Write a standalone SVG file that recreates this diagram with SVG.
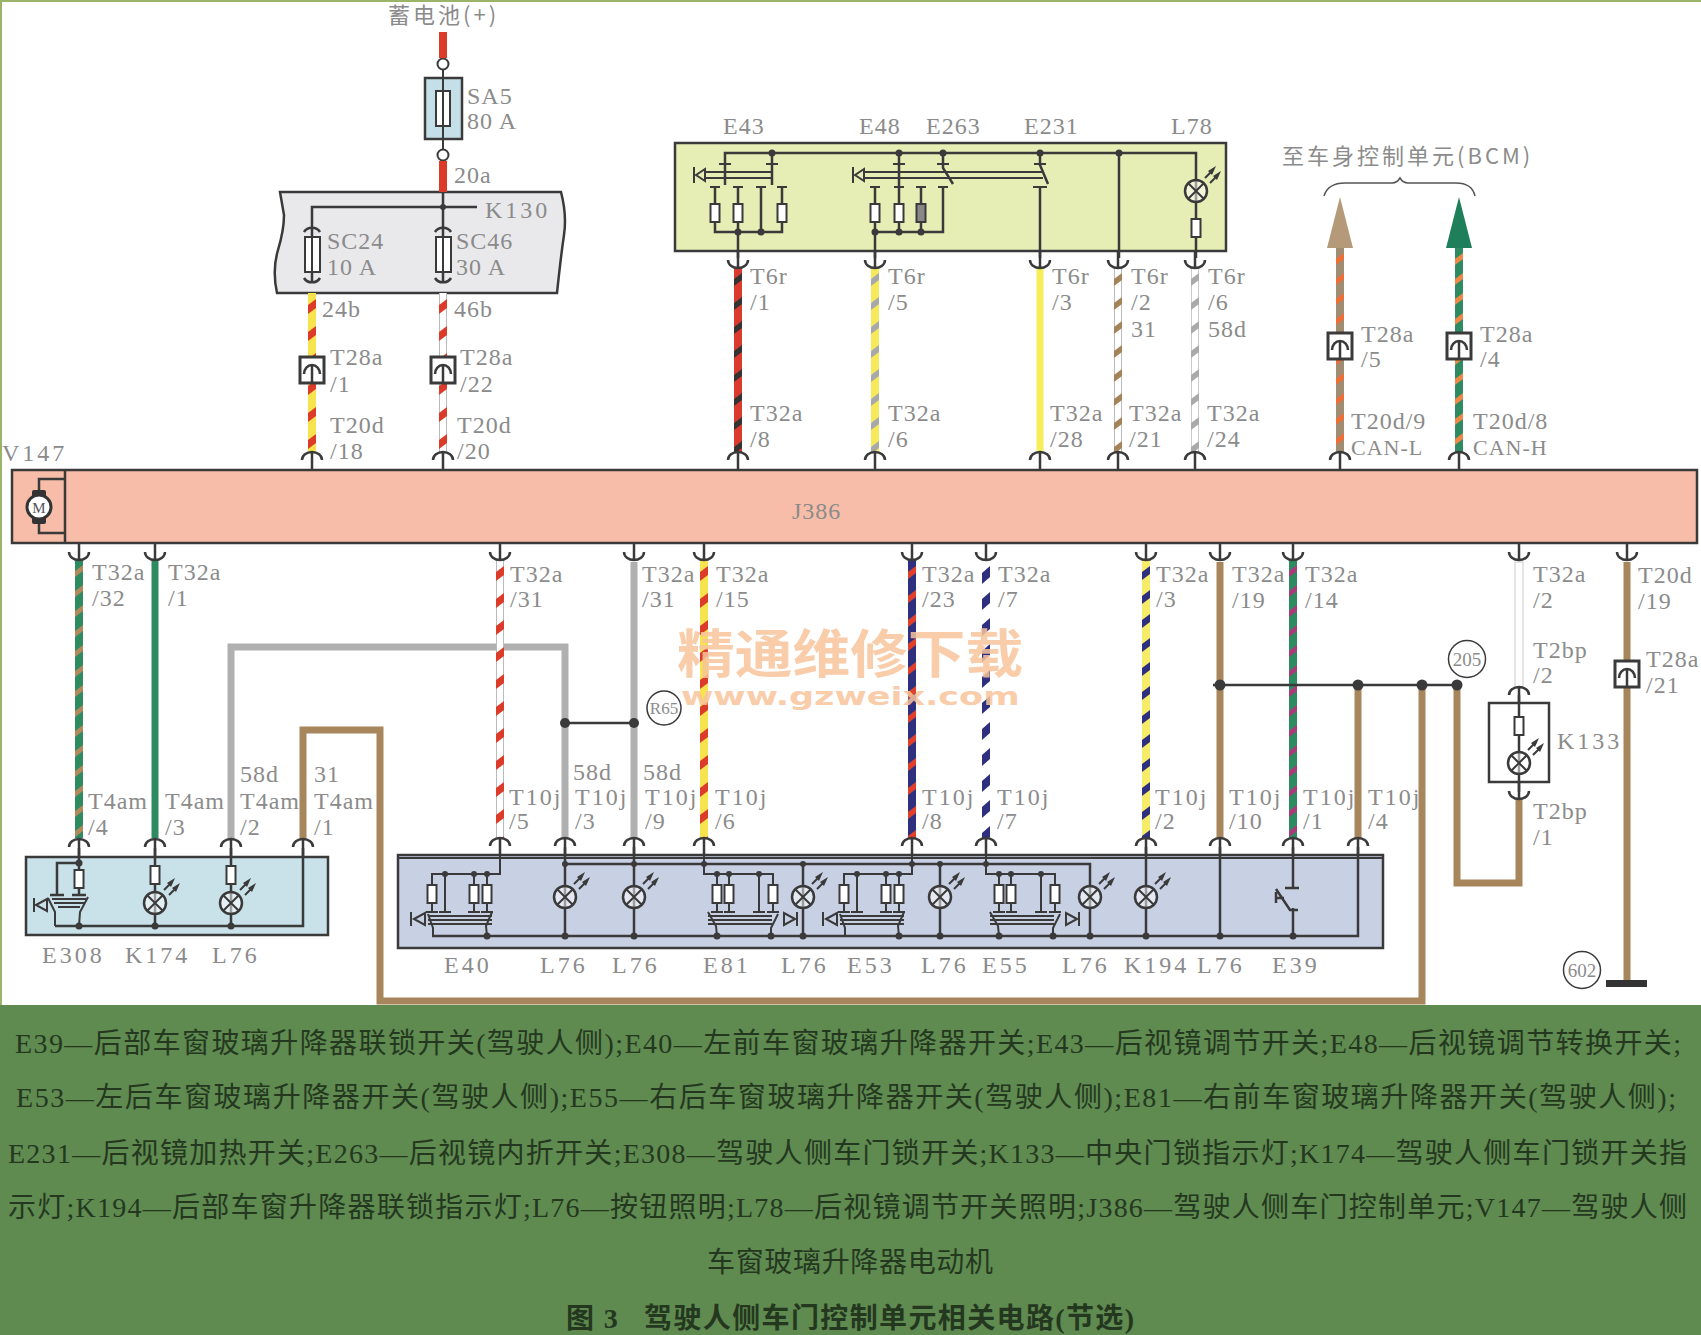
<svg xmlns="http://www.w3.org/2000/svg" xmlns:xlink="http://www.w3.org/1999/xlink" width="1701" height="1335" viewBox="0 0 1701 1335">
<style>
text{font-family:"Liberation Serif","Noto Sans CJK SC",serif}
.t{font-size:24px;fill:#8b8b8b;letter-spacing:1px}
.c{font-size:22px;fill:#8b8b8b;letter-spacing:3px;font-family:"Noto Sans CJK SC",sans-serif}
.n{font-size:19px;fill:#8b8b8b}
.lg{font-size:28px;fill:#24381f}
.l{fill:none;stroke:#3a3a3a;stroke-width:2}
.b{fill:none;stroke:#3a3a3a;stroke-width:2.5}
.f{fill:#fff;stroke:#3a3a3a;stroke-width:2}
.d{fill:#3a3a3a}
.w{fill:none;stroke-width:7}
</style>
<defs>
<pattern id="ry" width="8" height="27" patternUnits="userSpaceOnUse"><rect width="8" height="27" fill="#f7e34e"/><path d="M0 12L8 6V15L0 21Z" fill="#dd3b2a"/></pattern>
<pattern id="rw" width="8" height="27" patternUnits="userSpaceOnUse"><rect width="8" height="27" fill="#fff"/><path d="M0.5 0V27M7.5 0V27" stroke="#bbb"/><path d="M0 12L8 6V15L0 21Z" fill="#dd3b2a"/></pattern>
<pattern id="rk" width="8" height="24" patternUnits="userSpaceOnUse"><rect width="8" height="24" fill="#d93c2e"/><path d="M0 12L8 6V13L0 19Z" fill="#333"/></pattern>
<pattern id="yg" width="8" height="24" patternUnits="userSpaceOnUse"><rect width="8" height="24" fill="#f7ea5a"/><path d="M0 12L8 6V13L0 19Z" fill="#a8a8a8"/></pattern>
<pattern id="wb" width="8" height="24" patternUnits="userSpaceOnUse"><rect width="8" height="24" fill="#fff"/><path d="M0.5 0V24M7.5 0V24" stroke="#bbb"/><path d="M0 12L8 6V13L0 19Z" fill="#a58358"/></pattern>
<pattern id="wg" width="8" height="24" patternUnits="userSpaceOnUse"><rect width="8" height="24" fill="#fff"/><path d="M0.5 0V24M7.5 0V24" stroke="#ccc"/><path d="M0 12L8 6V13L0 19Z" fill="#aaa"/></pattern>
<pattern id="bo" width="8" height="20" patternUnits="userSpaceOnUse"><rect width="8" height="20" fill="#a08c70"/><path d="M0 11L8 5V11L0 17Z" fill="#ee6e35"/></pattern>
<pattern id="go" width="8" height="20" patternUnits="userSpaceOnUse"><rect width="8" height="20" fill="#2e8a60"/><path d="M0 11L8 5V11L0 17Z" fill="#ee8844"/></pattern>
<pattern id="gb" width="8" height="20" patternUnits="userSpaceOnUse"><rect width="8" height="20" fill="#2e8a60"/><path d="M0 11L8 5V11L0 17Z" fill="#b08a5a"/></pattern>
<pattern id="ub" width="8" height="24" patternUnits="userSpaceOnUse"><rect width="8" height="24" fill="#2f2f80"/><path d="M0 12L8 6V13L0 19Z" fill="#e0402a"/></pattern>
<pattern id="uw" width="8" height="26" patternUnits="userSpaceOnUse"><rect width="8" height="26" fill="#fff"/><path d="M0 13L8 6V17L0 24Z" fill="#2f2f80"/></pattern>
<pattern id="yu" width="8" height="24" patternUnits="userSpaceOnUse"><rect width="8" height="24" fill="#f7ec6a"/><path d="M0 12L8 6V14L0 20Z" fill="#2f2f80"/></pattern>
<pattern id="gp" width="8" height="20" patternUnits="userSpaceOnUse"><rect width="8" height="20" fill="#2e8a60"/><path d="M0 11L8 5V11L0 17Z" fill="#a83a7a"/></pattern>
<g id="cu"><path class="b" d="M-10 -1A10 8 0 0 1 10 -1M0 -8V8"/></g>
<g id="cd"><path class="b" d="M-10 1A10 8 0 0 0 10 1M0 -8V8"/></g>
<g id="lamp"><circle r="11" fill="#fff" fill-opacity=".5" stroke="#3a3a3a" stroke-width="2.5"/><path class="l" d="M-8 -8L8 8M-8 8L8 -8M9 -13L17 -21M14 -8L22 -16"/><path class="d" d="M20 -25L12 -20L16 -16ZM25 -20L17 -15L21 -11Z"/></g>
<g id="fuse"><rect class="f" x="-4.5" y="-9" width="9" height="18"/></g>
<g id="conn"><rect x="-12" y="-13" width="24" height="26" fill="#fff" stroke="#3a3a3a" stroke-width="3"/><path class="b" d="M-8 4A8 9 0 0 1 8 4M0 -4V13"/></g>
<g id="swL">
<path class="l" d="M500 847V874H432V912M445 874V912M474 874V912M487 874V912M426 912H438M439 912H451M468 912H480M481 912H493M428 916H492M428 920H492M428 924H492M414 919L425 913V925ZM411 912V926M492 912L486 926L487 936M428 914L433 928V936"/>
<circle class="d" cx="445" cy="874" r="3"/><circle class="d" cx="474" cy="874" r="3"/><circle class="d" cx="487" cy="874" r="3"/><circle class="d" cx="487" cy="936" r="3.5"/>
<use href="#fuse" x="432" y="894"/><use href="#fuse" x="474" y="894"/><use href="#fuse" x="487" y="894"/>
</g>
<g id="swR">
<path class="l" d="M704 847V874H773V912M717 874V912M729 874V912M759 874V912M711 912H723M724 912H735M753 912H765M767 912H779M708 916H772M708 920H772M708 924H772M795 919L784 913V925ZM797 912V926M708 912L716 926L717 936M778 914L771 928V936"/>
<circle class="d" cx="717" cy="874" r="3"/><circle class="d" cx="729" cy="874" r="3"/><circle class="d" cx="759" cy="874" r="3"/><circle class="d" cx="717" cy="936" r="3.5"/><circle class="d" cx="771" cy="936" r="3.5"/>
<use href="#fuse" x="717" y="894"/><use href="#fuse" x="729" y="894"/><use href="#fuse" x="773" y="894"/>
</g>
</defs>
<rect width="1701" height="1335" fill="#fff"/>
<rect width="1701" height="2" fill="#9ab56a"/><rect width="2" height="1005" fill="#9ab56a"/>
<rect y="1005" width="1701" height="330" fill="#5f8a50"/>

<g id="SA5">
<rect x="425" y="78" width="37" height="61" fill="#c5dfe8" stroke="#3a3a3a" stroke-width="2.5"/>
<rect class="f" x="436" y="91" width="14" height="35"/>
<path class="l" d="M443 70V149"/>
<circle cx="443" cy="64" r="5.5" fill="#fff" stroke="#3a3a3a" stroke-width="2"/><circle cx="443" cy="155" r="5.5" fill="#fff" stroke="#3a3a3a" stroke-width="2"/>
<text class="t" x="467" y="104">SA5</text><text class="t" x="467" y="129">80 A</text>
</g>
<g id="K130">
<path d="M280 192H561Q567 215 564 235T557 293H277Q272 270 278 250T284 215Z" fill="#e9e9ec" stroke="#3a3a3a" stroke-width="2.5"/>
<path class="b" d="M312 283V207H477M443 192V283"/>
<circle class="d" cx="443" cy="207" r="3"/>
<path class="b" d="M304 232A9 8 0 0 1 320 232M435 232A9 8 0 0 1 451 232M304 278A9 8 0 0 0 320 278M435 278A9 8 0 0 0 451 278"/>
<rect class="f" x="305" y="237" width="15" height="35"/><rect class="f" x="436" y="237" width="15" height="35"/>
<path class="l" d="M312 237V272M443 237V272"/>
<text class="t" x="485" y="218" style="letter-spacing:3px">K130</text>
<text class="t" x="327" y="249">SC24</text><text class="t" x="327" y="275">10 A</text>
<text class="t" x="456" y="249">SC46</text><text class="t" x="456" y="275">30 A</text>
</g>
<g id="mirror-switches">
<rect x="675" y="143" width="551" height="108" fill="#e6edb5" stroke="#3a3a3a" stroke-width="2.5"/>
<path class="b" d="M725 185V153H1196V218"/>
<path class="l" d="M704 172H771M704 178H771M863 172H1043M863 178H1043M696 175L705 169V181ZM694 167V183M855 175L864 169V181ZM853 167V183"/>
<path class="b" d="M772 153V185M715 187V232H782V187M738 187V258M761 187V232M782 187V232"/>
<path class="l" d="M710 187H720M733 187H743M756 187H766M777 187H787M719 164H731M766 164H778M893 164H905M937 164H949M1034 164H1046M870 187H880M894 187H904M916 187H926M938 187H948M1033 187H1047"/>
<path class="b" d="M899 153V232M875 187V258M921 187V232M943 187V232H875M943 153V168L953 184M1040 153V165L1048 184M1040 187V258M1119 153V258M1196 237V258"/>
<g class="d"><circle cx="772" cy="153" r="3.5"/><circle cx="899" cy="153" r="3.5"/><circle cx="943" cy="153" r="3.5"/><circle cx="1040" cy="153" r="3.5"/><circle cx="1119" cy="153" r="3.5"/><circle cx="738" cy="232" r="3.5"/><circle cx="761" cy="232" r="3.5"/><circle cx="875" cy="232" r="3.5"/><circle cx="899" cy="232" r="3.5"/><circle cx="921" cy="232" r="3.5"/></g>
<use href="#fuse" x="715" y="213"/><use href="#fuse" x="738" y="213"/><use href="#fuse" x="782" y="213"/><use href="#fuse" x="875" y="213"/><use href="#fuse" x="899" y="213"/>
<rect x="916.500" y="204" width="9" height="18" fill="#888" stroke="#3a3a3a" stroke-width="2"/>
<use href="#lamp" x="1196" y="191"/><use href="#fuse" x="1196" y="228"/>
<text class="t" x="723" y="134">E43</text><text class="t" x="859" y="134">E48</text><text class="t" x="926" y="134">E263</text><text class="t" x="1024" y="134">E231</text><text class="t" x="1171" y="134">L78</text>
</g>
<g id="J386">
<rect x="12" y="470" width="1685" height="73" fill="#f7bda8" stroke="#3a3a3a" stroke-width="2.5"/>
<path class="b" d="M65 470V543M65 479H39V533H65"/>
<rect x="32" y="490" width="14" height="34" rx="2" fill="#333"/>
<circle cx="39" cy="507" r="12" fill="#fff" stroke="#333" stroke-width="3"/>
<text x="39" y="513" text-anchor="middle" font-size="15" fill="#555">M</text>
<text class="t" x="792" y="519">J386</text>
<text class="t" x="2" y="461" style="letter-spacing:3px">V147</text>
</g>
<g id="lock-switch">
<rect x="26" y="857" width="302" height="78" fill="#c9e1e8" stroke="#3a3a3a" stroke-width="2.5"/>
<path class="b" d="M79 848V895M79 863H57V895M50 895H64M72 895H86M55 926H303V848M155 848V926M231 848V926"/>
<path class="l" d="M52 899H86M54 903H84M58 907H80M36 905L47 899V911ZM34 898V912M88 897L80 912L79 926M48 898L55 912V926"/>
<g class="d"><circle cx="79" cy="863" r="3.5"/><circle cx="79" cy="926" r="3.5"/><circle cx="155" cy="926" r="3.5"/><circle cx="231" cy="926" r="3.5"/></g>
<use href="#fuse" x="79" y="879"/><use href="#fuse" x="155" y="875"/><use href="#fuse" x="231" y="875"/>
<use href="#lamp" x="155" y="903"/><use href="#lamp" x="231" y="903"/>
<text class="t" x="42" y="963" style="letter-spacing:3px">E308</text><text class="t" x="125" y="963" style="letter-spacing:3px">K174</text><text class="t" x="212" y="963" style="letter-spacing:3px">L76</text>
</g>
<g id="window-switches">
<rect x="398" y="855" width="985" height="93" fill="#c8d0e4" stroke="#3a3a3a" stroke-width="2.5"/>
<path class="l" d="M398 858H1383"/>
<path class="b" d="M565 847V936M634 847V936M565 864H1090V936M803 864V936M940 864V936M432 936H1358V847M1146 847V936M1220 847V936M1293 847V888M1293 908V936"/>
<path class="b" d="M1285 888H1299M1276 889L1290 910H1298M1276 898H1284M1276 892V903"/>
<use href="#swL"/><use href="#swL" x="412"/><use href="#swR"/><use href="#swR" x="282"/>
<use href="#lamp" x="565" y="897"/><use href="#lamp" x="634" y="897"/><use href="#lamp" x="803" y="897"/><use href="#lamp" x="940" y="897"/><use href="#lamp" x="1090" y="897"/><use href="#lamp" x="1146" y="897"/>
<g class="d"><circle cx="565" cy="864" r="3"/><circle cx="634" cy="864" r="3"/><circle cx="704" cy="864" r="3"/><circle cx="803" cy="864" r="3"/><circle cx="912" cy="864" r="3"/><circle cx="940" cy="864" r="3"/><circle cx="986" cy="864" r="3"/><circle cx="565" cy="936" r="3.5"/><circle cx="634" cy="936" r="3.5"/><circle cx="803" cy="936" r="3.5"/><circle cx="940" cy="936" r="3.5"/><circle cx="1090" cy="936" r="3.5"/><circle cx="1146" cy="936" r="3.5"/><circle cx="1220" cy="936" r="3.5"/><circle cx="1293" cy="936" r="3.5"/></g>
<text class="t" y="973" style="letter-spacing:3px"><tspan x="444">E40</tspan><tspan x="540">L76</tspan><tspan x="612">L76</tspan><tspan x="703">E81</tspan><tspan x="781">L76</tspan><tspan x="847">E53</tspan><tspan x="921">L76</tspan><tspan x="982">E55</tspan><tspan x="1062">L76</tspan><tspan x="1124">K194</tspan><tspan x="1197">L76</tspan><tspan x="1272">E39</tspan></text>
</g>
<g id="K133">
<rect x="1489" y="703" width="60" height="79" fill="#fff" stroke="#3a3a3a" stroke-width="2.5"/>
<path class="b" d="M1519 695V792"/>
<use href="#fuse" x="1519" y="726"/><use href="#lamp" x="1519" y="763"/>
<text class="t" x="1557" y="749" style="letter-spacing:3px">K133</text>
</g>
<g id="ground-points">
<circle cx="1467" cy="659" r="18.500" fill="#fff" stroke="#3a3a3a" stroke-width="1.500"/><text class="n" x="1467" y="666" text-anchor="middle">205</text>
<circle cx="664" cy="708" r="17" fill="#fff" stroke="#3a3a3a" stroke-width="1.500"/><text class="n" x="664" y="714" text-anchor="middle" style="font-size:17px">R65</text>
<circle cx="1582" cy="970" r="18.500" fill="#fff" stroke="#3a3a3a" stroke-width="1.500"/><text class="n" x="1582" y="977" text-anchor="middle">602</text>
<rect x="1606" y="980" width="41" height="7" fill="#333"/>
</g>
<g id="connectors">
<path d="M443 32V58M443 161V192" class="w" stroke="#dd3b2a" style="stroke-width:8"/>
<path d="M231 840V647H565V838M634 562V838" class="w" stroke="#b0b0b0"/>
<path d="M303 840V730H380V1001H1422V685M1220 562V838M1358 685V838M1457 685V883H1519V798M1627 562V980" class="w" stroke="#a8865c"/>
<path d="M155 560V838" class="w" stroke="#2e8a60"/>
<path d="M1040 267V453" class="w" stroke="#f7ec5a"/>
<rect x="1515" y="562" width="8" height="126" fill="#fff" stroke="#ccc"/>
<rect transform="translate(308,293)" width="8" height="160" fill="url(#ry)"/>
<rect transform="translate(439,293)" width="8" height="160" fill="url(#rw)"/>
<rect transform="translate(734,267)" width="8" height="186" fill="url(#rk)"/>
<rect transform="translate(871,267)" width="8" height="186" fill="url(#yg)"/>
<rect transform="translate(1114,267)" width="8" height="186" fill="url(#wb)"/>
<rect transform="translate(1191,267)" width="8" height="186" fill="url(#wg)"/>
<rect transform="translate(1336,248)" width="8" height="205" fill="url(#bo)"/>
<rect transform="translate(1455,248)" width="8" height="205" fill="url(#go)"/>
<rect transform="translate(75,560)" width="8" height="278" fill="url(#gb)"/>
<rect transform="translate(496,560)" width="8" height="278" fill="url(#rw)"/>
<rect transform="translate(700,560)" width="8" height="278" fill="url(#ry)"/>
<rect transform="translate(908,560)" width="8" height="278" fill="url(#ub)"/>
<rect transform="translate(982,560)" width="8" height="278" fill="url(#uw)"/>
<rect transform="translate(1142,560)" width="8" height="278" fill="url(#yu)"/>
<rect transform="translate(1289,560)" width="8" height="278" fill="url(#gp)"/>
<path d="M1340 197L1353 248H1327Z" fill="#b49a78"/><path d="M1459 197L1472 248H1446Z" fill="#1f7f5a"/>
<path class="b" d="M1213 685H1457M565 723H634"/>
<g class="d"><circle cx="1220" cy="685" r="5.500"/><circle cx="1358" cy="685" r="5.500"/><circle cx="1422" cy="685" r="5.500"/><circle cx="1457" cy="685" r="5.500"/><circle cx="565" cy="723" r="5"/><circle cx="634" cy="723" r="5"/></g>
<path fill="none" stroke="#555" stroke-width="1.500" d="M1324 196Q1328 183 1345 183H1392Q1397 183 1400 178Q1403 183 1408 183H1456Q1472 183 1475 196"/>
<g id="arcs-top"><use href="#cu" x="312" y="461"/><use href="#cu" x="443" y="461"/><use href="#cu" x="738" y="461"/><use href="#cu" x="875" y="461"/><use href="#cu" x="1040" y="461"/><use href="#cu" x="1118" y="461"/><use href="#cu" x="1195" y="461"/><use href="#cu" x="1340" y="461"/><use href="#cu" x="1459" y="461"/>
<use href="#cu" x="79" y="848"/><use href="#cu" x="155" y="848"/><use href="#cu" x="231" y="848"/><use href="#cu" x="303" y="848"/><use href="#cu" x="500" y="847"/><use href="#cu" x="565" y="847"/><use href="#cu" x="634" y="847"/><use href="#cu" x="704" y="847"/><use href="#cu" x="912" y="847"/><use href="#cu" x="986" y="847"/><use href="#cu" x="1146" y="847"/><use href="#cu" x="1220" y="847"/><use href="#cu" x="1293" y="847"/><use href="#cu" x="1358" y="847"/><use href="#cu" x="1519" y="696"/></g>
<g id="arcs-bottom"><use href="#cd" x="738" y="259"/><use href="#cd" x="875" y="259"/><use href="#cd" x="1040" y="259"/><use href="#cd" x="1118" y="259"/><use href="#cd" x="1195" y="259"/>
<use href="#cd" x="79" y="551"/><use href="#cd" x="155" y="551"/><use href="#cd" x="500" y="551"/><use href="#cd" x="634" y="551"/><use href="#cd" x="704" y="551"/><use href="#cd" x="912" y="551"/><use href="#cd" x="986" y="551"/><use href="#cd" x="1146" y="551"/><use href="#cd" x="1220" y="551"/><use href="#cd" x="1293" y="551"/><use href="#cd" x="1519" y="551"/><use href="#cd" x="1627" y="551"/><use href="#cd" x="1519" y="790"/></g>
<use href="#conn" x="312" y="370"/><use href="#conn" x="443" y="370"/><use href="#conn" x="1340" y="346"/><use href="#conn" x="1459" y="346"/><use href="#conn" x="1627" y="674"/>
</g>
<g id="labels">
<text class="c" x="388" y="23">蓄电池(+)</text>
<text class="c" x="1282" y="164">至车身控制单元(BCM)</text>
<text class="t" x="454" y="183">20a</text><text class="t" x="322" y="317">24b</text><text class="t" x="454" y="317">46b</text>
<text class="t" x="330" y="365">T28a</text><text class="t" x="330" y="392">/1</text><text class="t" x="460" y="365">T28a</text><text class="t" x="460" y="392">/22</text>
<text class="t" x="330" y="433">T20d</text><text class="t" x="330" y="459">/18</text><text class="t" x="457" y="433">T20d</text><text class="t" x="457" y="459">/20</text>
<text class="t" x="750" y="284">T6r</text><text class="t" x="750" y="310">/1</text><text class="t" x="888" y="284">T6r</text><text class="t" x="888" y="310">/5</text><text class="t" x="1052" y="284">T6r</text><text class="t" x="1052" y="310">/3</text>
<text class="t" x="1131" y="284">T6r</text><text class="t" x="1131" y="310">/2</text><text class="t" x="1131" y="337">31</text><text class="t" x="1208" y="284">T6r</text><text class="t" x="1208" y="310">/6</text><text class="t" x="1208" y="337">58d</text>
<text class="t" x="750" y="421">T32a</text><text class="t" x="750" y="447">/8</text><text class="t" x="888" y="421">T32a</text><text class="t" x="888" y="447">/6</text><text class="t" x="1050" y="421">T32a</text><text class="t" x="1050" y="447">/28</text><text class="t" x="1129" y="421">T32a</text><text class="t" x="1129" y="447">/21</text><text class="t" x="1207" y="421">T32a</text><text class="t" x="1207" y="447">/24</text>
<text class="t" x="1361" y="342">T28a</text><text class="t" x="1361" y="367">/5</text><text class="t" x="1480" y="342">T28a</text><text class="t" x="1480" y="367">/4</text>
<text class="t" x="1351" y="429">T20d/9</text><text class="t" x="1351" y="455" style="font-size:22px">CAN-L</text><text class="t" x="1473" y="429">T20d/8</text><text class="t" x="1473" y="455" style="font-size:22px">CAN-H</text>
<text class="t" x="92" y="580">T32a</text><text class="t" x="92" y="606">/32</text><text class="t" x="168" y="580">T32a</text><text class="t" x="168" y="606">/1</text>
<text class="t" x="510" y="582">T32a</text><text class="t" x="510" y="607">/31</text><text class="t" x="642" y="582">T32a</text><text class="t" x="642" y="607">/31</text><text class="t" x="716" y="582">T32a</text><text class="t" x="716" y="607">/15</text>
<text class="t" x="922" y="582">T32a</text><text class="t" x="922" y="607">/23</text><text class="t" x="998" y="582">T32a</text><text class="t" x="998" y="607">/7</text><text class="t" x="1156" y="582">T32a</text><text class="t" x="1156" y="607">/3</text>
<text class="t" x="1232" y="582">T32a</text><text class="t" x="1232" y="608">/19</text><text class="t" x="1305" y="582">T32a</text><text class="t" x="1305" y="608">/14</text><text class="t" x="1533" y="582">T32a</text><text class="t" x="1533" y="608">/2</text>
<text class="t" x="1638" y="583">T20d</text><text class="t" x="1638" y="609">/19</text><text class="t" x="1646" y="667">T28a</text><text class="t" x="1646" y="693">/21</text>
<text class="t" x="1533" y="658">T2bp</text><text class="t" x="1533" y="683">/2</text><text class="t" x="1533" y="819">T2bp</text><text class="t" x="1533" y="845">/1</text>
<text class="t" x="88" y="809">T4am</text><text class="t" x="88" y="835">/4</text><text class="t" x="165" y="809">T4am</text><text class="t" x="165" y="835">/3</text>
<text class="t" x="240" y="782">58d</text><text class="t" x="240" y="809">T4am</text><text class="t" x="240" y="835">/2</text><text class="t" x="314" y="782">31</text><text class="t" x="314" y="809">T4am</text><text class="t" x="314" y="835">/1</text>
<text class="t" x="573" y="780">58d</text><text class="t" x="643" y="780">58d</text>
<text class="t" x="509" y="805" style="letter-spacing:2px">T10j</text><text class="t" x="509" y="829">/5</text><text class="t" x="575" y="805" style="letter-spacing:2px">T10j</text><text class="t" x="575" y="829">/3</text><text class="t" x="645" y="805" style="letter-spacing:2px">T10j</text><text class="t" x="645" y="829">/9</text><text class="t" x="715" y="805" style="letter-spacing:2px">T10j</text><text class="t" x="715" y="829">/6</text>
<text class="t" x="922" y="805" style="letter-spacing:2px">T10j</text><text class="t" x="922" y="829">/8</text><text class="t" x="997" y="805" style="letter-spacing:2px">T10j</text><text class="t" x="997" y="829">/7</text><text class="t" x="1155" y="805" style="letter-spacing:2px">T10j</text><text class="t" x="1155" y="829">/2</text>
<text class="t" x="1229" y="805" style="letter-spacing:2px">T10j</text><text class="t" x="1229" y="829">/10</text><text class="t" x="1303" y="805" style="letter-spacing:2px">T10j</text><text class="t" x="1303" y="829">/1</text><text class="t" x="1368" y="805" style="letter-spacing:2px">T10j</text><text class="t" x="1368" y="829">/4</text>
</g>
<g id="watermark" opacity=".85">
<text transform="translate(677,673) scale(1.11,1)" font-size="52" font-weight="700" fill="#f8c49c" style="font-family:'Noto Sans CJK SC',sans-serif">精通维修下载</text>
<text transform="translate(681,705) scale(1.4,1)" font-size="25" font-weight="700" fill="#f8c49c" style="font-family:'DejaVu Sans',sans-serif">www.gzweix.com</text>
</g>
<g id="legend">
<text class="lg" x="15" y="1053" textLength="1666">E39—后部车窗玻璃升降器联锁开关(驾驶人侧);E40—左前车窗玻璃升降器开关;E43—后视镜调节开关;E48—后视镜调节转换开关;</text>
<text class="lg" x="16" y="1107" textLength="1660">E53—左后车窗玻璃升降器开关(驾驶人侧);E55—右后车窗玻璃升降器开关(驾驶人侧);E81—右前车窗玻璃升降器开关(驾驶人侧);</text>
<text class="lg" x="8" y="1163" textLength="1679">E231—后视镜加热开关;E263—后视镜内折开关;E308—驾驶人侧车门锁开关;K133—中央门锁指示灯;K174—驾驶人侧车门锁开关指</text>
<text class="lg" x="8" y="1217" textLength="1679">示灯;K194—后部车窗升降器联锁指示灯;L76—按钮照明;L78—后视镜调节开关照明;J386—驾驶人侧车门控制单元;V147—驾驶人侧</text>
<text class="lg" x="707" y="1272" textLength="286">车窗玻璃升降器电动机</text>
<text class="lg" x="566" y="1328" textLength="568" font-weight="700">图 3&#160;&#160;&#160;驾驶人侧车门控制单元相关电路(节选)</text>
</g>
</svg>
